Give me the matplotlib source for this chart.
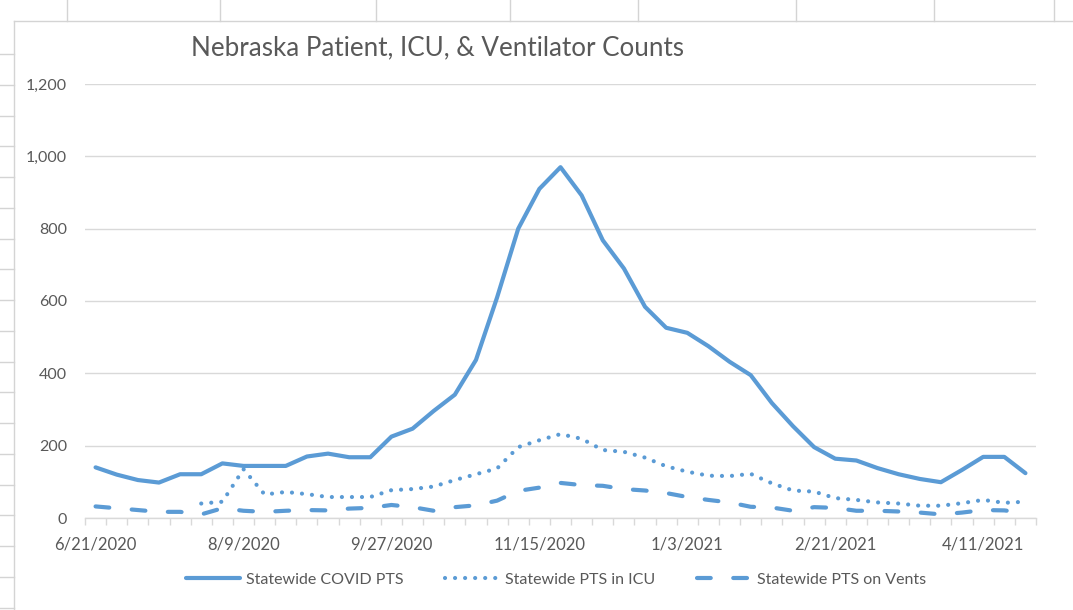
import matplotlib
matplotlib.use("Agg")
import matplotlib.pyplot as plt
from matplotlib.lines import Line2D

plt.rcParams['font.family'] = ['Lato', 'DejaVu Sans']

# weekly dates, first label 6/21/2020, 45 weeks
weeks = ['6/21/2020', '6/28/2020', '7/5/2020', '7/12/2020', '7/19/2020', '7/26/2020',
         '8/2/2020', '8/9/2020', '8/16/2020', '8/23/2020', '8/30/2020', '9/6/2020',
         '9/13/2020', '9/20/2020', '9/27/2020', '10/4/2020', '10/11/2020', '10/18/2020',
         '10/25/2020', '11/1/2020', '11/8/2020', '11/15/2020', '11/22/2020', '11/29/2020',
         '12/6/2020', '12/13/2020', '12/20/2020', '12/27/2020', '1/3/2021', '1/10/2021',
         '1/17/2021', '1/24/2021', '1/31/2021', '2/7/2021', '2/14/2021', '2/21/2021',
         '2/28/2021', '3/7/2021', '3/14/2021', '3/21/2021', '3/28/2021', '4/4/2021',
         '4/11/2021', '4/18/2021', '4/25/2021']

covid_pts = [140, 120, 105, 98, 121, 121, 151, 144, 144, 144, 170, 178, 168, 168, 225,
             247, 296, 341, 437, 610, 800, 910, 970, 892, 768, 690, 584, 526, 512, 475,
             432, 395, 318, 254, 196, 164, 159, 138, 121, 108, 99, 133, 169, 169, 124]

icu_pts = [None, None, None, None, None, 40, 45, 135, 65, 72, 66, 58, 58, 58, 77,
           80, 87, 105, 121, 137, 196, 215, 232, 219, 188, 183, 167, 143, 128, 117,
           116, 122, 96, 76, 73, 55, 50, 43, 40, 34, 34, 41, 50, 42, 45]

vent_pts = [32, 27, 22, 17, 17, 10, 27, 20, 17, 20, 22, 21, 26, 28, 36,
            30, 20, 30, 35, 48, 75, 84, 97, 91, 89, 80, 76, 69, 58, 50,
            43, 31, 29, 20, 30, 28, 20, 20, 18, 15, 10, 15, 22, 21, 14]

y_ticks = [0, 200, 400, 600, 800, 1000, 1200]

blue = '#5B9BD5'
txt = '#595959'
grid = '#d9d9d9'

fig = plt.figure(figsize=(10.73, 6.10), dpi=100)
ax = fig.add_axes([85 / 1073, 1 - 518 / 610, (1036 - 85) / 1073, (518 - 84) / 610])

x = list(range(len(weeks)))
icu_x = [i for i, v in zip(x, icu_pts) if v is not None]
icu_y = [v for v in icu_pts if v is not None]

lw = 3.0
ax.plot(x, covid_pts, color=blue, lw=lw, solid_joinstyle='round',
        solid_capstyle='round', label='Statewide COVID PTS')
ax.plot(icu_x, icu_y, color=blue, lw=lw, linestyle=(0, (0.01, 2.4)),
        dash_capstyle='round', label='Statewide PTS in ICU')
ax.plot(x, vent_pts, color=blue, lw=lw, linestyle=(0, (3.3, 5.4)),
        dash_capstyle='round', label='Statewide PTS on Vents')

ax.set_xlim(-0.5, len(weeks) - 0.5)
ax.set_ylim(0, 1200)
ax.set_yticks(y_ticks)
ax.set_yticklabels([f'{v:,}' for v in y_ticks])
ax.yaxis.grid(True, color=grid, lw=1)
ax.set_axisbelow(True)

lab_idx = list(range(0, len(weeks), 7))
ax.set_xticks(lab_idx)
ax.set_xticklabels([weeks[i] for i in lab_idx])
ax.set_xticks([i - 0.5 for i in range(len(weeks) + 1)], minor=True)
ax.tick_params(axis='x', which='major', length=0, pad=13, labelsize=12, labelcolor=txt)
ax.tick_params(axis='x', which='minor', length=5, width=1, color=grid)
ax.tick_params(axis='y', length=0, pad=13, labelsize=11.5, labelcolor=txt)

for s in ['top', 'right', 'left']:
    ax.spines[s].set_visible(False)
ax.spines['bottom'].set_color(grid)
ax.spines['bottom'].set_linewidth(1)

fig.text(191 / 1073, 1 - 48 / 610, 'Nebraska Patient, ICU, & Ventilator Counts',
         fontsize=18.7, color=txt, va='center', ha='left')

fig.legend(loc='center', bbox_to_anchor=(556 / 1073, 1 - 580 / 610), ncol=3,
           frameon=False, fontsize=11.5, labelcolor=txt, handlelength=3.4,
           handletextpad=0.35, columnspacing=2.6)

# spreadsheet cell lines around the chart
edge = '#d4d4d4'
fig.add_artist(Line2D([14 / 1073, 1], [1 - 21 / 610] * 2, color=edge, lw=1))
fig.add_artist(Line2D([14 / 1073] * 2, [0, 1 - 21 / 610], color=edge, lw=1))
for cx in [67, 220, 376, 510, 638, 796, 934, 1054]:
    fig.add_artist(Line2D([cx / 1073] * 2, [1 - 21 / 610, 1], color=edge, lw=1))
for k in range(19):
    ry = 54 + 30.75 * k
    fig.add_artist(Line2D([0, 14 / 1073], [1 - ry / 610] * 2, color=edge, lw=1))

fig.savefig('out.png', dpi=100, facecolor='white')
